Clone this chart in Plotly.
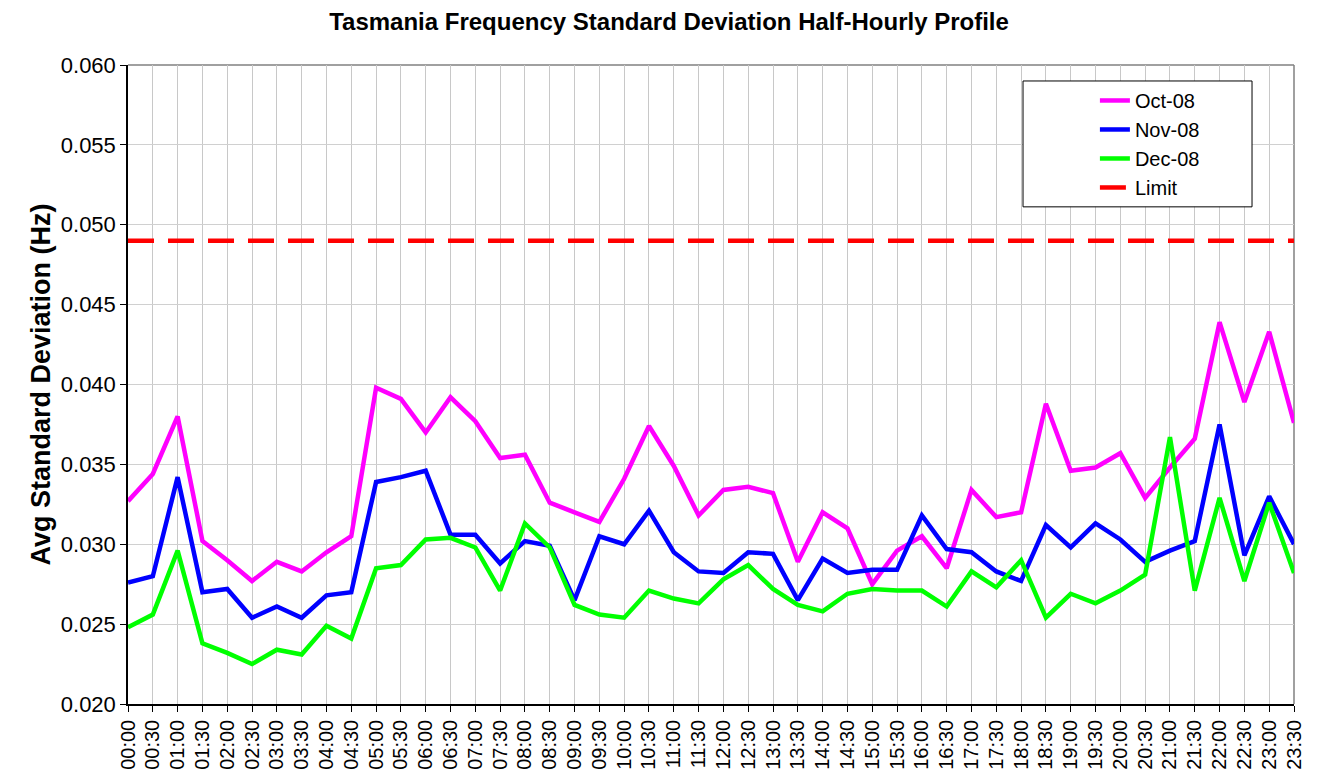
import plotly.graph_objects as go

times = [f"{h:02d}:{m:02d}" for h in range(24) for m in (0, 30)]

oct_08 = [0.0327, 0.0344, 0.0380, 0.0302, 0.0290, 0.0277, 0.0289, 0.0283,
          0.0295, 0.0305, 0.0398, 0.0391, 0.0370, 0.0392, 0.0377, 0.0354,
          0.0356, 0.0326, 0.0320, 0.0314, 0.0341, 0.0374, 0.0349, 0.0318,
          0.0334, 0.0336, 0.0332, 0.0289, 0.0320, 0.0310, 0.0275, 0.0296,
          0.0305, 0.0285, 0.0334, 0.0317, 0.0320, 0.0388, 0.0346, 0.0348,
          0.0357, 0.0329, 0.0348, 0.0366, 0.0439, 0.0389, 0.0433, 0.0376]

nov_08 = [0.0276, 0.0280, 0.0342, 0.0270, 0.0272, 0.0254, 0.0261, 0.0254,
          0.0268, 0.0270, 0.0339, 0.0342, 0.0346, 0.0306, 0.0306, 0.0288,
          0.0302, 0.0299, 0.0265, 0.0305, 0.0300, 0.0321, 0.0295, 0.0283,
          0.0282, 0.0295, 0.0294, 0.0265, 0.0291, 0.0282, 0.0284, 0.0284,
          0.0318, 0.0297, 0.0295, 0.0283, 0.0277, 0.0312, 0.0298, 0.0313,
          0.0303, 0.0289, 0.0296, 0.0302, 0.0375, 0.0293, 0.0330, 0.0300]

dec_08 = [0.0248, 0.0256, 0.0296, 0.0238, 0.0232, 0.0225, 0.0234, 0.0231,
          0.0249, 0.0241, 0.0285, 0.0287, 0.0303, 0.0304, 0.0298, 0.0271,
          0.0313, 0.0298, 0.0262, 0.0256, 0.0254, 0.0271, 0.0266, 0.0263,
          0.0278, 0.0287, 0.0272, 0.0262, 0.0258, 0.0269, 0.0272, 0.0271,
          0.0271, 0.0261, 0.0283, 0.0273, 0.0290, 0.0254, 0.0269, 0.0263,
          0.0271, 0.0281, 0.0367, 0.0271, 0.0329, 0.0277, 0.0326, 0.0282]

limit = [0.049] * len(times)

font = "Arial, Liberation Sans, sans-serif"

fig = go.Figure()
fig.add_trace(go.Scatter(x=times, y=oct_08, name="Oct-08", mode="lines",
                         line=dict(color="#ff00ff", width=4.5)))
fig.add_trace(go.Scatter(x=times, y=nov_08, name="Nov-08", mode="lines",
                         line=dict(color="#0000ff", width=4.5)))
fig.add_trace(go.Scatter(x=times, y=dec_08, name="Dec-08", mode="lines",
                         line=dict(color="#00ff00", width=4.5)))
fig.add_trace(go.Scatter(x=times, y=limit, name="Limit", mode="lines",
                         line=dict(color="#ff0000", width=4.5, dash="26px,14px")))

# gray frame on top and right
fig.add_shape(type="line", xref="paper", yref="paper", x0=0, x1=1, y0=1, y1=1,
              line=dict(color="#808080", width=1.5), layer="below")
fig.add_shape(type="line", xref="paper", yref="paper", x0=1, x1=1, y0=0, y1=1,
              line=dict(color="#808080", width=1.5), layer="below")
# legend box (wider than plotly's own)
fig.add_shape(type="rect", xref="paper", yref="paper",
              x0=0.7676, x1=0.964, y0=0.778, y1=0.975,
              fillcolor="white", line=dict(color="black", width=1), layer="above")

fig.update_layout(
    width=1310, height=770,
    margin=dict(l=120, r=24, t=57, b=74),
    paper_bgcolor="white", plot_bgcolor="white",
    font=dict(family=font, color="black"),
    title=dict(text="<b>Tasmania Frequency Standard Deviation Half-Hourly Profile</b>",
               x=0.5046, xanchor="center", y=0.982, yanchor="middle",
               font=dict(size=24, family=font)),
    xaxis=dict(type="category", range=[0, len(times) - 1],
               tickmode="array", tickvals=times, ticktext=times,
               tickangle=-90, tickfont=dict(size=20), automargin=False,
               showgrid=True, gridcolor="#c8c8c8", gridwidth=1, showline=True,
               linecolor="black", linewidth=1.5, ticks="outside",
               ticklen=6, tickcolor="black", zeroline=False),
    yaxis=dict(range=[0.020, 0.060], dtick=0.005, tickformat=".3f",
               tickfont=dict(size=22), showgrid=True, gridcolor="#d0d0d0",
               gridwidth=1, showline=True, linecolor="black", linewidth=1.5,
               ticks="outside", ticklen=6, tickcolor="black", zeroline=False,
               automargin=False,
               title=dict(text="<b>Avg Standard Deviation (Hz)</b>",
                          font=dict(size=27), standoff=2)),
    legend=dict(x=0.7675, y=0.975, xanchor="left", yanchor="top",
                bgcolor="rgba(0,0,0,0)", borderwidth=0,
                font=dict(size=20), indentation=72, tracegroupgap=0),
    showlegend=True,
)

fig.write_html("out.html")
